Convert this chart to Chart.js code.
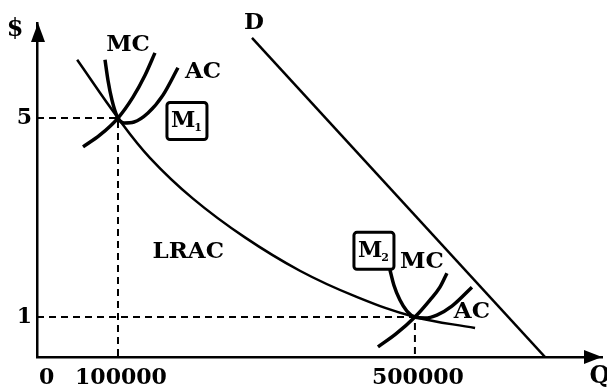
<!DOCTYPE html>
<html><head><meta charset="utf-8">
<script src="https://cdn.jsdelivr.net/npm/chart.js@4"></script>
<style>html,body{margin:0;padding:0;background:#fff;overflow:hidden}</style>
</head><body>
<canvas id="c" width="607" height="389"></canvas>
<script>
// ---- data (quantity Q, price $) ----
const xTicks = [0, 100000, 500000];
const xTickLabels = ['0', '100000', '500000'];
const yTicks = [1, 5];
const yTickLabels = ['1', '5'];

const lracQ = [45000, 100000, 143000, 201000, 271000, 345000, 419000, 500000, 581000];
const lracP = [6.17, 5.00, 4.20, 3.38, 2.60, 1.93, 1.42, 1.00, 0.78];

const demandQ = [280500, 675000];
const demandP = [6.61, 0.20];

const mc1Q = [52900, 75800, 100000, 120200, 136400, 149800];
const mc1P = [4.42, 4.66, 5.00, 5.42, 5.86, 6.31];

const ac1Q = [82500, 86500, 91900, 98700, 108100, 121600, 140400, 160600, 180800];
const ac1P = [6.17, 5.76, 5.36, 5.04, 4.90, 4.92, 5.10, 5.46, 6.01];

const mc2Q = [450200, 474400, 500000, 520200, 533700, 543100];
const mc2P = [0.40, 0.66, 1.00, 1.34, 1.60, 1.88];

const ac2Q = [466300, 471700, 479800, 489200, 500000, 513500, 529600, 549800, 576800];
const ac2P = [1.95, 1.64, 1.34, 1.12, 1.00, 0.98, 1.04, 1.22, 1.60];

const optimumQ = [100000, 500000];
const optimumP = [5, 1];

const xMin = -9100, xMax = 752000, yMin = 0.196, yMax = 6.91;

const pts = (qs, ps) => qs.map((q, i) => ({x: q, y: ps[i]}));

// text annotations in data coordinates
const notes = [
  {text: 'MC', q: 113500, p: 6.47},
  {text: 'AC', q: 214500, p: 5.93},
  {text: 'M', sub: '1', q: 192900, p: 4.94, box: true},
  {text: 'D', q: 283200, p: 6.90},
  {text: 'LRAC', q: 194600, p: 2.31},
  {text: 'M', sub: '2', q: 444800, p: 2.33, box: true},
  {text: 'MC', q: 509400, p: 2.11},
  {text: 'AC', q: 576800, p: 1.10}
];

const FONT = '"DejaVu Serif", serif';

const curve = (data, w, mode) => ({
  data, borderColor: '#000', borderWidth: w, pointRadius: 0,
  fill: false, cubicInterpolationMode: mode || 'monotone', tension: 0.4
});
const guide = (q, p) => ({
  data: [{x: xMin, y: p}, {x: q, y: p}, {x: q, y: yMin}],
  borderColor: '#000', borderWidth: 2, borderDash: [7, 5], pointRadius: 0, fill: false, tension: 0
});

const overlay = {
  id: 'overlay',
  afterDraw(chart) {
    const ctx = chart.ctx, xs = chart.scales.x, ys = chart.scales.y, a = chart.chartArea;
    ctx.save();
    ctx.fillStyle = '#000';
    // arrowheads
    ctx.beginPath();
    ctx.moveTo(a.left + 1, a.top);
    ctx.lineTo(a.left - 6, a.top + 19);
    ctx.lineTo(a.left + 8, a.top + 19);
    ctx.closePath(); ctx.fill();
    ctx.beginPath();
    ctx.moveTo(a.right, a.bottom);
    ctx.lineTo(a.right - 18, a.bottom - 7);
    ctx.lineTo(a.right - 18, a.bottom + 7);
    ctx.closePath(); ctx.fill();
    // axis names
    ctx.textAlign = 'center'; ctx.textBaseline = 'middle';
    ctx.font = 'bold 24px ' + FONT;
    ctx.fillText('$', a.left - 22, a.top + 7);
    ctx.fillText('Q', a.right - 2, a.bottom + 20);
    // notes
    notes.forEach(n => {
      const x = xs.getPixelForValue(n.q), y = ys.getPixelForValue(n.p);
      if (n.box) {
        ctx.font = 'bold 22px ' + FONT;
        const w = ctx.measureText(n.text).width;
        ctx.font = 'bold 11px ' + FONT;
        const sw = ctx.measureText(n.sub).width;
        const bw = 40, bh = 37;
        ctx.lineWidth = 3; ctx.strokeStyle = '#000';
        ctx.beginPath();
        ctx.roundRect(x - bw / 2, y - bh / 2, bw, bh, 3);
        ctx.stroke();
        const tx = x - (w + sw) / 2;
        ctx.textAlign = 'left';
        ctx.font = 'bold 22px ' + FONT;
        ctx.fillText(n.text, tx, y);
        ctx.font = 'bold 11px ' + FONT;
        ctx.fillText(n.sub, tx + w - 1, y + 7);
        ctx.textAlign = 'center';
      } else {
        ctx.font = 'bold 23px ' + FONT;
        ctx.fillText(n.text, x, y);
      }
    });
    ctx.restore();
  }
};

new Chart(document.getElementById('c'), {
  type: 'line',
  data: {
    datasets: [
      curve(pts(lracQ, lracP), 2.5, 'default'),
      {data: pts(demandQ, demandP), borderColor: '#000', borderWidth: 2.5, pointRadius: 0, fill: false, tension: 0},
      curve(pts(mc1Q, mc1P), 3.5),
      curve(pts(ac1Q, ac1P), 3.5),
      curve(pts(mc2Q, mc2P), 3.5),
      curve(pts(ac2Q, ac2P), 3.5),
      guide(optimumQ[0], optimumP[0]),
      guide(optimumQ[1], optimumP[1])
    ]
  },
  options: {
    responsive: false,
    animation: false,
    events: [],
    layout: {padding: {top: 23, right: 5, left: 0, bottom: 0}},
    plugins: {legend: {display: false}, tooltip: {enabled: false}},
    scales: {
      x: {
        type: 'linear', min: xMin, max: xMax,
        grid: {display: false, drawTicks: false},
        border: {display: true, color: '#000', width: 2.5},
        afterBuildTicks: s => { s.ticks = xTicks.map(v => ({value: v})); },
        afterFit: s => { s.height = 32; },
        ticks: {
          color: '#000', padding: 8, labelOffset: 3, maxRotation: 0, autoSkip: false,
          font: {family: FONT, size: 22, weight: 'bold'},
          callback: v => xTickLabels[xTicks.indexOf(v)]
        }
      },
      y: {
        type: 'linear', min: yMin, max: yMax,
        grid: {display: false, drawTicks: false},
        border: {display: true, color: '#000', width: 2.5},
        afterBuildTicks: s => { s.ticks = yTicks.map(v => ({value: v})); },
        afterFit: s => { s.width = 37; },
        ticks: {
          color: '#000', padding: 5, autoSkip: false,
          font: {family: FONT, size: 22, weight: 'bold'},
          callback: v => yTickLabels[yTicks.indexOf(v)]
        }
      }
    }
  },
  plugins: [overlay]
});
</script>
</body></html>
